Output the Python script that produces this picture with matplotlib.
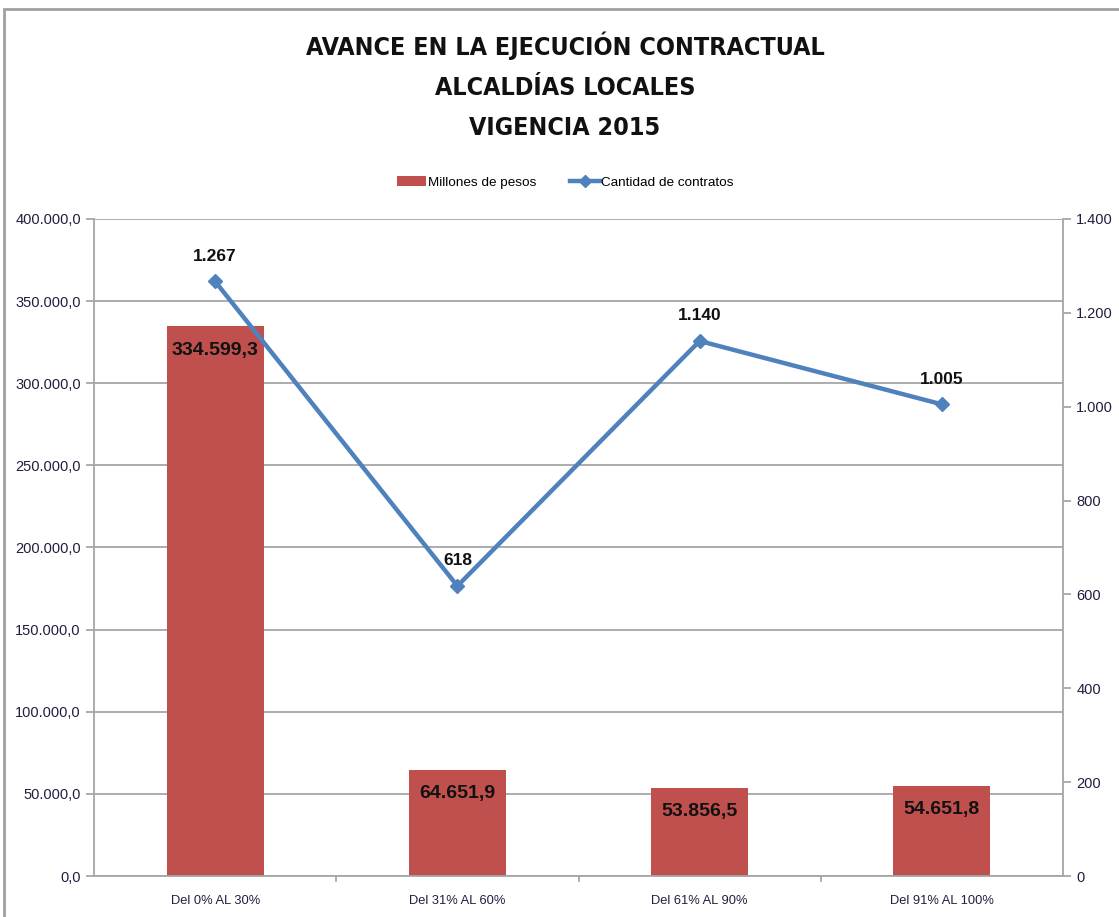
import matplotlib.pyplot as plt
from matplotlib.lines import Line2D
from matplotlib.patches import Patch, Rectangle
from matplotlib.ticker import FuncFormatter


CATEGORIES = ["Del 0% AL 30%", "Del 31% AL 60%", "Del 61% AL 90%", "Del 91% AL 100%"]
MILLONES = [334599.3, 64651.9, 53856.5, 54651.8]
CONTRATOS = [1267, 618, 1140, 1005]

BAR_COLOR = "#C0504D"
LINE_COLOR = "#4F81BD"
GRID_COLOR = "#A6A6A6"

plt.rcParams["font.family"] = ["Liberation Sans", "DejaVu Sans"]


def fmt_es(value, decimals):
    s = f"{value:,.{decimals}f}"
    return s.replace(",", "X").replace(".", ",").replace("X", ".")


def main():
    fig = plt.figure(figsize=(11.19, 9.17), dpi=100)

    # outer chart frame (cropped on the right and bottom)
    fig.patches.append(Rectangle((4 / 1119, -0.05), 1.2, 1 - 9 / 917 + 0.05,
                                 transform=fig.transFigure, fill=False,
                                 edgecolor="#A0A0A0", linewidth=2))

    ax = fig.add_axes([0.084, 0.0447, 0.866, 0.7165])
    x = list(range(len(CATEGORIES)))

    ax.bar(x, MILLONES, width=0.4, color=BAR_COLOR, zorder=2)
    ax.set_ylim(0, 400000)
    ax.set_xlim(-0.5, len(CATEGORIES) - 0.5)
    ax.set_yticks(range(0, 400001, 50000))
    ax.yaxis.set_major_formatter(FuncFormatter(lambda v, p: fmt_es(v, 1)))
    ax.set_xticks(x)
    ax.set_xticklabels(CATEGORIES)
    ax.grid(axis="y", color=GRID_COLOR, linewidth=1.3, zorder=0)
    ax.set_axisbelow(True)

    for spine in ["top", "right"]:
        ax.spines[spine].set_visible(False)
    for spine in ["left", "bottom"]:
        ax.spines[spine].set_color(GRID_COLOR)
        ax.spines[spine].set_linewidth(1.3)
    ax.tick_params(axis="y", colors=GRID_COLOR, labelcolor="#1F1F3F", labelsize=10.5,
                   length=6, width=1.3)
    ax.tick_params(axis="x", colors=GRID_COLOR, labelcolor="#1F1F3F", labelsize=9.3,
                   length=0, pad=14)

    # category separator ticks on the x axis
    for b in [0.5, 1.5, 2.5]:
        ax.plot([b, b], [0, -0.008], transform=ax.get_xaxis_transform(),
                color=GRID_COLOR, linewidth=1.3, clip_on=False)

    for xi, val in zip(x, MILLONES):
        ax.annotate(fmt_es(val, 1), (xi, val), xytext=(0, -17),
                    textcoords="offset points", ha="center", va="center",
                    fontsize=14, fontweight="bold", color="#111111", zorder=5)

    ax2 = ax.twinx()
    ax2.plot(x, CONTRATOS, color=LINE_COLOR, linewidth=3.2, marker="D",
             markersize=7, zorder=4)
    ax2.set_ylim(0, 1400)
    ax2.set_yticks(range(0, 1401, 200))
    ax2.yaxis.set_major_formatter(FuncFormatter(lambda v, p: fmt_es(v, 0)))
    for spine in ["top", "left", "bottom"]:
        ax2.spines[spine].set_visible(False)
    ax2.spines["right"].set_color(GRID_COLOR)
    ax2.spines["right"].set_linewidth(1.3)
    ax2.tick_params(axis="y", colors=GRID_COLOR, labelcolor="#1F1F3F", labelsize=10.5,
                    length=6, width=1.3)

    for xi, val in zip(x, CONTRATOS):
        ax2.annotate(fmt_es(val, 0), (xi, val), xytext=(0, 18),
                     textcoords="offset points", ha="center", va="center",
                     fontsize=12.5, fontweight="bold", color="#111111", zorder=5)

    title_lines = ["AVANCE EN LA EJECUCIÓN CONTRACTUAL", "ALCALDÍAS LOCALES", "VIGENCIA 2015"]
    for line, y in zip(title_lines, [0.950, 0.904, 0.860]):
        fig.text(0.505, y, line, ha="center", va="center", fontsize=18,
                 fontweight="bold", color="#111111", family="DejaVu Sans",
                 fontstretch="condensed")

    handles = [
        Patch(facecolor=BAR_COLOR, edgecolor="none"),
        Line2D([0], [0], color=LINE_COLOR, linewidth=3.2, marker="D", markersize=6),
    ]
    fig.legend(handles, ["Millones de pesos", "Cantidad de contratos"],
               loc="center", bbox_to_anchor=(0.505, 0.801), ncol=2, frameon=False,
               fontsize=9.7, handlelength=2.2, handletextpad=0.1, columnspacing=2.5)

    fig.savefig("out.png", dpi=100)


if __name__ == "__main__":
    main()
